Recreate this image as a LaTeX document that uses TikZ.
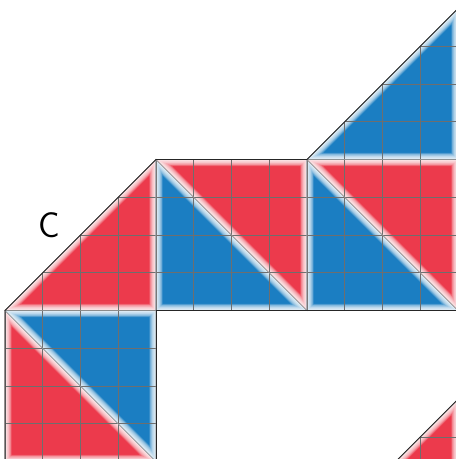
\documentclass[tikz,border=0pt]{standalone}
\usepackage{xcolor}
\definecolor{qred}{RGB}{236,58,76}
\definecolor{qblue}{RGB}{27,126,194}
\definecolor{qgrid}{RGB}{110,110,110}
\usepackage{tikz}
\usetikzlibrary{calc}

\tikzset{
  gridline/.style={draw=qgrid, line width=0.45pt},
  edgeline/.style={draw=qgrid!80, line width=0.4pt},
  outline/.style={draw=black!85, line width=0.6pt, line join=round}
}

% one coloured half of a 4x4 square, with a soft white rim
\newcommand{\piece}[5]{%
  \begin{scope}[shift={#2}]
    \fill[#1] #3 -- #4 -- #5 -- cycle;
    \begin{scope}
      \clip #3 -- #4 -- #5 -- cycle;
      \foreach \w in {1,...,10}
        \draw[white, opacity=0.19, line width=\w pt] #3 -- #4 -- #5 -- cycle;
      \draw[gridline] (0,0) grid (4,4);
    \end{scope}
    \draw[edgeline] #3 -- #4 -- #5 -- cycle;
  \end{scope}}

\begin{document}
\begin{tikzpicture}
  \useasboundingbox (-0.132,0.066) rectangle (11.947,12.225);

  % bottom-left square
  \piece{qred}{(0,0)}{(0,0)}{(0,4)}{(4,0)}
  \piece{qblue}{(0,0)}{(0,4)}{(4,4)}{(4,0)}
  % middle row
  \piece{qred}{(0,4)}{(0,0)}{(4,0)}{(4,4)}
  \piece{qblue}{(4,4)}{(0,4)}{(0,0)}{(4,0)}
  \piece{qred}{(4,4)}{(0,4)}{(4,4)}{(4,0)}
  \piece{qblue}{(8,4)}{(0,4)}{(0,0)}{(4,0)}
  \piece{qred}{(8,4)}{(0,4)}{(4,4)}{(4,0)}
  % top
  \piece{qblue}{(8,8)}{(0,0)}{(4,0)}{(4,4)}
  % bottom-right
  \piece{qred}{(8,-2.35)}{(0,0)}{(4,0)}{(4,4)}

  % outer border
  \draw[outline] (0,0) -- (0,4) -- (4,8) -- (8,8) -- (12,12);
  \draw[outline] (4,0) -- (4,4) -- (12,4);
  \draw[outline] (8,-2.35) -- (12,1.65);

  \node (lblC) at (1.166,6.265) {\fontsize{27}{27}\selectfont\sffamily C};
\end{tikzpicture}
\end{document}
